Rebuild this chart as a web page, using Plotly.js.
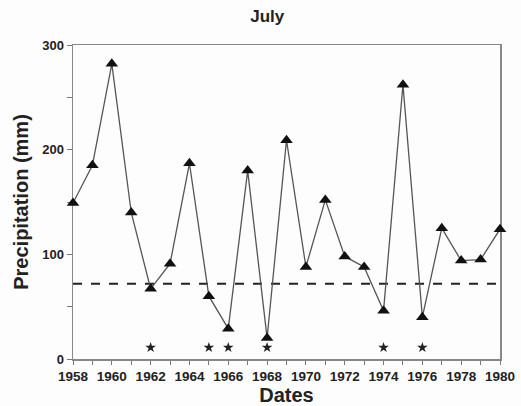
<!DOCTYPE html>
<html><head><meta charset="utf-8">
<script src="https://cdn.plot.ly/plotly-3.0.1.min.js"></script>
<style>html,body{margin:0;padding:0;background:#fdfdfd}</style>
</head><body>
<div id="chart" style="width:521px;height:406px"></div>
<script>
const years = [1958,1959,1960,1961,1962,1963,1964,1965,1966,1967,1968,1969,1970,1971,1972,1973,1974,1975,1976,1977,1978,1979,1980];
const precipitation = [149,185,282,140,67,91,187,60,29,180,20,209,88,152,98,88,46,262,40,125,94,95,124];
const thresholdYears = [1958,1980];
const thresholdValue = [72,72];
const starYears = [1962,1965,1966,1968,1974,1976];
const starLevel = [11,11,11,11,11,11];
const xTickVals = [1958,1960,1962,1964,1966,1968,1970,1972,1974,1976,1978,1980];
const yTickVals = [0,100,200,300];

const font = "Liberation Sans, Arial, sans-serif";
const traces = [
  {x: thresholdYears, y: thresholdValue, mode:'lines', line:{color:'#222', width:2, dash:'dash'}, hoverinfo:'skip'},
  {x: years, y: precipitation, mode:'lines+markers', line:{color:'#555', width:1.3},
   marker:{symbol:'triangle-up', size:11, color:'#111'}, cliponaxis:false},
  {x: starYears, y: starLevel, mode:'markers', marker:{symbol:'star', size:8, color:'#222'}}
];
const layout = {
  width:521, height:406, showlegend:false,
  paper_bgcolor:'#fdfdfd', plot_bgcolor:'#fdfdfd',
  margin:{l:73, r:21, t:45, b:47},
  title:{text:'<b>July</b>', x:0.513, xanchor:'center', y:0.96, yanchor:'middle', font:{family:font, size:17, color:'#222'}},
  xaxis:{range:[1958,1980], tickvals:xTickVals, ticktext:xTickVals.map(String), ticks:'outside', ticklen:4, tickcolor:'#777',
    minor:{dtick:1, tick0:1958, ticks:'outside', ticklen:4, tickcolor:'#777'}, layer:'below traces',
    showline:true, mirror:true, linecolor:'#888', linewidth:1.5, showgrid:false, zeroline:false,
    tickfont:{family:font, size:13.5, color:'#222', weight:'bold'},
    title:{text:'<b>Dates</b>', font:{family:font, size:20, color:'#222'}, standoff:7}},
  yaxis:{range:[0,300], tickvals:yTickVals, ticks:'outside', ticklen:5, tickcolor:'#777',
    minor:{dtick:50, tick0:0, ticks:'outside', ticklen:5, tickcolor:'#777'}, layer:'below traces',
    showline:true, mirror:true, linecolor:'#888', linewidth:1.5, showgrid:false, zeroline:false,
    tickfont:{family:font, size:13, color:'#222', weight:'bold'},
    title:{text:'<b>Precipitation (mm)</b>', font:{family:font, size:20, color:'#222'}, standoff:8}}
};
Plotly.newPlot('chart', traces, layout, {displayModeBar:false, staticPlot:true});
</script>
</body></html>
